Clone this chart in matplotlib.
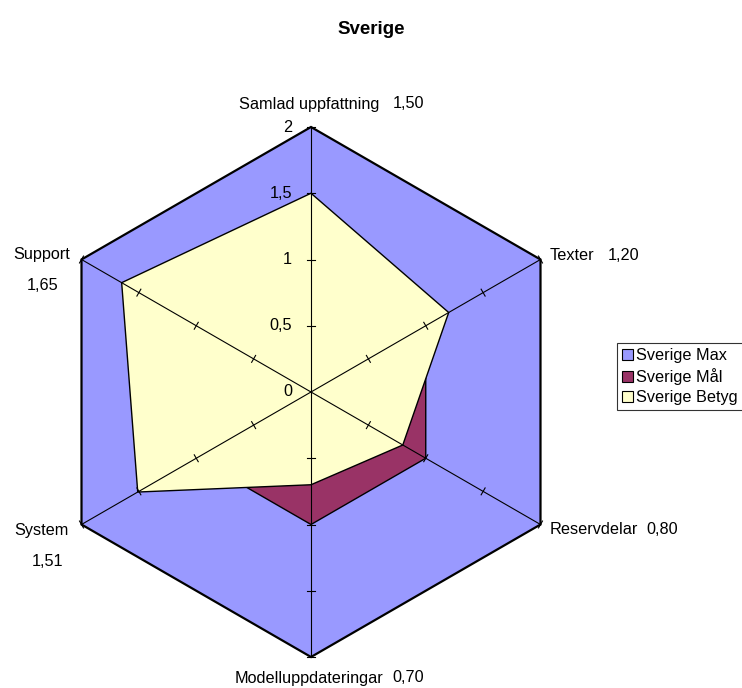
import numpy as np
import matplotlib
matplotlib.use("Agg")
import matplotlib.pyplot as plt
from matplotlib.patches import Polygon, Patch

plt.rcParams["font.family"] = ["Liberation Sans", "DejaVu Sans"]

categories = ["Samlad uppfattning", "Texter", "Reservdelar",
              "Modelluppdateringar", "System", "Support"]
value_labels = ["1,50", "1,20", "0,80", "0,70", "1,51", "1,65"]
max_vals = [2, 2, 2, 2, 2, 2]
mal_vals = [1, 1, 1, 1, 1, 1]
betyg_vals = [1.50, 1.20, 0.80, 0.70, 1.51, 1.65]
ticks = [0, 0.5, 1, 1.5, 2]
tick_labels = ["0", "0,5", "1", "1,5", "2"]

series_names = ["Sverige Max", "Sverige Mål", "Sverige Betyg"]
colors = ["#9999FF", "#993366", "#FFFFCC"]

W, H = 742, 688
cx, cy, scale = 311, 392, 132.5   # pixel centre, px per unit

fig = plt.figure(figsize=(W / 100, H / 100), dpi=100)
ax = fig.add_axes([0, 0, 1, 1])
ax.set_xlim(-cx / scale, (W - cx) / scale)
ax.set_ylim(-(H - cy) / scale, cy / scale)
ax.axis("off")

angles = np.deg2rad(90 - np.arange(len(categories)) * 60)


def xy(vals):
    v = np.asarray(vals, dtype=float)
    return np.column_stack([v * np.cos(angles), v * np.sin(angles)])


for vals, col, lw in zip([max_vals, mal_vals, betyg_vals], colors, [1.6, 1.0, 1.0]):
    ax.add_patch(Polygon(xy(vals), closed=True, facecolor=col,
                         edgecolor="black", linewidth=lw, zorder=2))

# spokes with tick marks
tl = 0.03
for a in angles:
    ax.plot([0, 2 * np.cos(a)], [0, 2 * np.sin(a)], color="black", lw=0.8, zorder=3)
    px, py = -np.sin(a), np.cos(a)
    for t in ticks[1:]:
        x0, y0 = t * np.cos(a), t * np.sin(a)
        ax.plot([x0 - tl * px, x0 + tl * px], [y0 - tl * py, y0 + tl * py],
                color="black", lw=0.8, zorder=3)

fs = 11.7

# value axis labels along top spoke
for t, lab in zip(ticks, tick_labels):
    ax.text(-19 / scale, t, lab, ha="right", va="center", fontsize=fs, zorder=4)


def P(px, py):
    return (px - cx) / scale, (cy - py) / scale


# (category x-left, value x-left, y) in pixels, taken from the layout
name_pos = [(239, 104), (550, 255), (550, 529), (235, 678), (14, 531), (13, 255)]
val_pos = [(393, 104), (608, 255), (646, 529), (392, 678), (32, 562), (27, 285)]
for cat, val, (nx, ny), (vx, vy) in zip(categories, value_labels, name_pos, val_pos):
    ax.text(*P(nx, ny), cat, ha="left", va="center", fontsize=fs)
    ax.text(*P(vx, vy), val, ha="left", va="center", fontsize=fs)

fig.text(371 / W, 1 - 30 / H, "Sverige", ha="center", va="center",
         fontsize=13.5, fontweight="bold")

handles = [Patch(facecolor=c, edgecolor="black", linewidth=0.8) for c in colors]
leg = fig.legend(handles, series_names, loc="upper left",
                 bbox_to_anchor=(617 / W, 1 - 343 / H), fontsize=11.7,
                 frameon=True, fancybox=False, handlelength=0.68, handleheight=0.68,
                 handletextpad=0.2, labelspacing=0.32, borderpad=0.3,
                 borderaxespad=0)
leg.get_frame().set_edgecolor("black")
leg.get_frame().set_linewidth(0.8)

fig.savefig("out.png", dpi=100)
